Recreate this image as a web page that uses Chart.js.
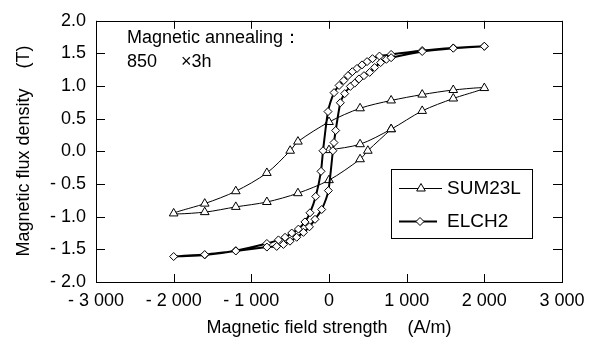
<!DOCTYPE html>
<html>
<head>
<meta charset="utf-8">
<script src="https://cdn.jsdelivr.net/npm/chart.js@4"></script>
<style>
  body { margin: 0; background: #fff; }
  #wrap { width: 599px; height: 340px; }
</style>
</head>
<body>
<div id="wrap"><canvas id="bhChart" width="599" height="340"></canvas></div>
<script>
// SUM23L: initial curve, then descending branch, then ascending branch (A/m, T)
const sumH = [0, 400, 800, 1200, 1600, 2000, 1600, 1200, 800, 400, 0, -400, -500, -800, -1200, -1600, -2000,
              -1600, -1200, -800, -400, 0, 400, 500, 800];
const sumB = [0.02, 0.11, 0.34, 0.62, 0.81, 0.97, 0.94, 0.87, 0.78, 0.66, 0.45, 0.15, 0.01, -0.33, -0.61, -0.80, -0.95,
              -0.93, -0.85, -0.775, -0.64, -0.44, -0.12, 0.01, 0.34];

// ELCH2: descending branch then ascending branch
const elchH = [2000, 1600, 1200, 800, 650, 560, 490, 425, 360, 300, 245, 190, 130, 65, -13, -77, -103, -171, -245,
               -310, -394, -480, -566, -651, -800, -1200, -1600, -2000,
               -1600, -1200, -800, -673, -587, -502, -416, -329, -252, -180, -94, -8, 50, 64, 86, 146, 202, 275,
               331, 386, 450, 524, 588, 665, 739, 800, 1200, 1600, 2000];
const elchB = [1.61, 1.585, 1.545, 1.485, 1.46, 1.42, 1.375, 1.325, 1.27, 1.22, 1.16, 1.085, 1.01, 0.9, 0.61, 0.01, -0.305, -0.69, -0.94,
               -1.08, -1.19, -1.25, -1.315, -1.355, -1.41, -1.52, -1.585, -1.61,
               -1.58, -1.525, -1.465, -1.455, -1.425, -1.375, -1.315, -1.24, -1.155, -1.04, -0.89, -0.6, 0.01, 0.135, 0.32, 0.745, 0.885, 0.995,
               1.045, 1.11, 1.16, 1.21, 1.285, 1.36, 1.41, 1.435, 1.53, 1.58, 1.61];

const xTicks = [-3000, -2000, -1000, 0, 1000, 2000, 3000];
const yTicks = [-2, -1.5, -1, -0.5, 0, 0.5, 1, 1.5, 2];

const FONT = '"Liberation Sans", Arial, sans-serif';

function toPoints(xs, ys) {
    return xs.map((x, i) => ({ x: x, y: ys[i] }));
}

function fmtX(v) {
    const s = String(Math.abs(v)).replace(/\B(?=(\d{3})+(?!\d))/g, ' ');
    return v < 0 ? '- ' + s : s;
}

function fmtY(v) {
    const s = Math.abs(v).toFixed(1);
    return v < 0 ? '- ' + s : s;
}

// frame, inner ticks, notes, axis titles and legend
const decorations = {
    id: 'decorations',
    afterDraw(chart) {
        const ctx = chart.ctx;
        const a = chart.chartArea;
        const xs = chart.scales.x, ys = chart.scales.y;
        ctx.save();
        ctx.strokeStyle = '#000';
        ctx.lineWidth = 1;
        ctx.strokeRect(Math.round(a.left) + 0.5, Math.round(a.top) + 0.5,
                       Math.round(a.right - a.left), Math.round(a.bottom - a.top));
        ctx.beginPath();
        xTicks.forEach(v => {
            const px = Math.round(xs.getPixelForValue(v)) + 0.5;
            ctx.moveTo(px, a.bottom); ctx.lineTo(px, a.bottom - 8);
            ctx.moveTo(px, a.top); ctx.lineTo(px, a.top + 8);
        });
        yTicks.forEach(v => {
            const py = Math.round(ys.getPixelForValue(v)) + 0.5;
            ctx.moveTo(a.left, py); ctx.lineTo(a.left + 9, py);
            ctx.moveTo(a.right, py); ctx.lineTo(a.right - 9, py);
        });
        ctx.stroke();

        ctx.fillStyle = '#000';
        ctx.font = '18px ' + FONT;
        ctx.textAlign = 'left';
        ctx.textBaseline = 'alphabetic';
        ctx.fillText('Magnetic annealing：', 127, 43);
        ctx.fillText('850', 127, 67);
        ctx.fillText('×3h', 181, 67);

        ctx.textAlign = 'center';
        ctx.fillText('Magnetic field strength    (A/m)', 329, 333);
        ctx.save();
        ctx.translate(29, 151);
        ctx.rotate(-Math.PI / 2);
        ctx.fillText('Magnetic flux density    (T)', 0, 0);
        ctx.restore();

        // legend box
        ctx.fillStyle = '#fff';
        ctx.fillRect(391.5, 169.5, 141, 69);
        ctx.strokeRect(391.5, 169.5, 141, 69);
        const rows = [[0, 188, 442, 421], [1, 221, 437, 420]];
        rows.forEach(r => {
            const ds = chart.data.datasets[r[0]];
            ctx.beginPath();
            ctx.lineWidth = ds.borderWidth;
            ctx.moveTo(399, r[1] + 0.5); ctx.lineTo(r[2], r[1] + 0.5);
            ctx.stroke();
            ctx.fillStyle = '#fff';
            ctx.lineWidth = 1;
            Chart.helpers.drawPoint(ctx, { pointStyle: ds.pointStyle, radius: ds.pointRadius, borderWidth: 1, rotation: 0 }, r[3], r[1] + 0.5);
            ctx.fillStyle = '#000';
            ctx.font = '19px ' + FONT;
            ctx.textAlign = 'left';
            ctx.textBaseline = 'middle';
            ctx.fillText(ds.label, 447, r[1] + 1);
        });
        ctx.restore();
    }
};

new Chart(document.getElementById('bhChart'), {
    type: 'scatter',
    data: {
        datasets: [{
            label: 'SUM23L',
            data: toPoints(sumH, sumB),
            showLine: true,
            tension: 0.3,
            borderColor: '#000',
            borderWidth: 1,
            pointStyle: 'triangle',
            pointRadius: 5,
            pointBorderWidth: 1,
            pointBackgroundColor: '#fff',
            pointBorderColor: '#000',
            order: 1
        }, {
            label: 'ELCH2',
            data: toPoints(elchH, elchB),
            showLine: true,
            tension: 0.2,
            borderColor: '#000',
            borderWidth: 2,
            pointStyle: 'rectRot',
            pointRadius: 4,
            pointBorderWidth: 1,
            pointBackgroundColor: '#fff',
            pointBorderColor: '#000',
            order: 0
        }]
    },
    options: {
        responsive: false,
        animation: false,
        layout: { padding: { top: 15, right: 37, left: 0, bottom: 0 } },
        plugins: { legend: { display: false }, tooltip: { enabled: false } },
        scales: {
            x: {
                type: 'linear',
                min: -3000, max: 3000,
                afterFit(s) { s.height = 58; },
                afterBuildTicks(s) { s.ticks = xTicks.map(v => ({ value: v })); },
                grid: { display: false, drawTicks: false },
                border: { display: false },
                ticks: {
                    padding: 8, maxRotation: 0, autoSkip: false, color: '#000',
                    font: { family: FONT, size: 18 },
                    callback: v => fmtX(v)
                }
            },
            y: {
                type: 'linear',
                min: -2, max: 2,
                afterFit(s) { s.width = 96; },
                afterBuildTicks(s) { s.ticks = yTicks.map(v => ({ value: v })); },
                grid: { display: false, drawTicks: false },
                border: { display: false },
                ticks: {
                    padding: 10, color: '#000',
                    font: { family: FONT, size: 18 },
                    callback: v => fmtY(v)
                }
            }
        }
    },
    plugins: [decorations]
});
</script>
</body>
</html>
